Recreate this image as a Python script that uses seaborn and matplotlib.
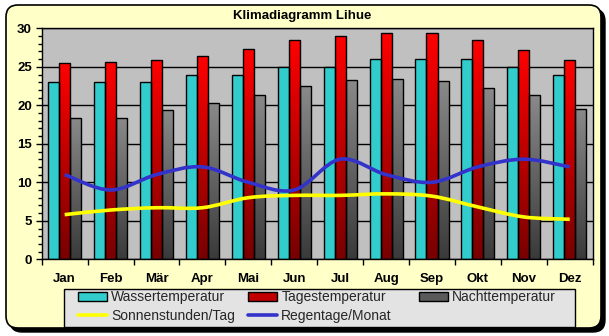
import numpy as np
import pandas as pd
import matplotlib
matplotlib.use("Agg")
import matplotlib.pyplot as plt
import seaborn as sns
from matplotlib.patches import FancyBboxPatch, Patch, PathPatch, Rectangle
from matplotlib.path import Path
from matplotlib.lines import Line2D
from matplotlib.colors import LinearSegmentedColormap
from matplotlib.ticker import MultipleLocator, FixedLocator
from matplotlib.transforms import IdentityTransform

# Monthly climate values for Lihue
months = ["Jan", "Feb", "Mär", "Apr", "Mai", "Jun", "Jul", "Aug", "Sep", "Okt", "Nov", "Dez"]
wassertemperatur = [23, 23, 23, 24, 24, 25, 25, 26, 26, 26, 25, 24]
tagestemperatur = [25.5, 25.6, 25.9, 26.4, 27.3, 28.5, 29.0, 29.4, 29.4, 28.5, 27.2, 25.9]
nachttemperatur = [18.4, 18.4, 19.4, 20.3, 21.3, 22.5, 23.3, 23.4, 23.2, 22.3, 21.3, 19.5]
sonnenstunden = [5.8, 6.4, 6.7, 6.7, 8.0, 8.3, 8.3, 8.5, 8.2, 6.8, 5.5, 5.2]
regentage = [11, 9, 11, 12, 10, 9, 13, 11, 10, 12, 13, 12]

bar_series = ["Wassertemperatur", "Tagestemperatur", "Nachttemperatur"]

df = pd.DataFrame({
    "Monat": months * 3,
    "Wert": wassertemperatur + tagestemperatur + nachttemperatur,
    "Reihe": [bar_series[0]] * 12 + [bar_series[1]] * 12 + [bar_series[2]] * 12,
})

FONT = "Liberation Sans"
W, H, DPI = 609, 336, 100

sns.set_theme(style="white")
plt.rcParams["font.family"] = [FONT, "DejaVu Sans"]

fig = plt.figure(figsize=(W / DPI, H / DPI), dpi=DPI, facecolor="white")

# Rounded chart frame with a drop shadow (pixel coordinates)
shadow = FancyBboxPatch((10, 4), 595, 323, boxstyle="round,pad=0,rounding_size=12",
                        transform=IdentityTransform(), facecolor="black",
                        edgecolor="black", lw=1, zorder=-3)
frame = FancyBboxPatch((6, 8), 595, 323, boxstyle="round,pad=0,rounding_size=12",
                       transform=IdentityTransform(), facecolor="#FFFFC8",
                       edgecolor="black", lw=1.2, zorder=-2)
fig.add_artist(shadow)
fig.add_artist(frame)

ax = fig.add_axes([41.7 / W, (H - 259.3) / H, (592.7 - 41.7) / W, (259.3 - 28.3) / H])
ax.set_facecolor("#C0C0C0")

sns.barplot(data=df, x="Monat", y="Wert", hue="Reihe", hue_order=bar_series,
            palette=["#33CCCC", "#FF0000", "#808080"], saturation=1,
            width=0.72, gap=0, edgecolor="black", linewidth=1,
            legend=False, ax=ax, zorder=2)

# Vertical gradients for day and night temperature bars
cmaps = {
    1: LinearSegmentedColormap.from_list("tag", ["#780000", "#FF0000"]),
    2: LinearSegmentedColormap.from_list("nacht", ["#3A3A3A", "#8A8A8A"]),
}
grad = np.linspace(1, 0, 256)[:, None]
for idx, cmap in cmaps.items():
    for bar in ax.containers[idx]:
        x0, w, h = bar.get_x(), bar.get_width(), bar.get_height()
        im = ax.imshow(grad, extent=[x0, x0 + w, 0, h], origin="upper",
                       aspect="auto", cmap=cmap, zorder=1.9, interpolation="bilinear")
        im.set_clip_path(bar)
        bar.set_facecolor("none")


def smooth_path(xs, ys):
    """Bezier path through the points, Catmull-Rom style control points."""
    pts = np.column_stack([xs, ys]).astype(float)
    n = len(pts)
    verts = [pts[0]]
    codes = [Path.MOVETO]
    for i in range(n - 1):
        p0 = pts[i - 1] if i > 0 else pts[i]
        p1 = pts[i]
        p2 = pts[i + 1]
        p3 = pts[i + 2] if i + 2 < n else pts[i + 1]
        c1 = p1 + (p2 - p0) / 6.0
        c2 = p2 - (p3 - p1) / 6.0
        verts += [c1, c2, p2]
        codes += [Path.CURVE4] * 3
    return Path(verts, codes)


xpos = np.arange(len(months))
ax.add_patch(PathPatch(smooth_path(xpos, sonnenstunden), fill=False,
                       edgecolor="#FFFF00", lw=2.6, zorder=5, capstyle="butt"))
ax.add_patch(PathPatch(smooth_path(xpos, regentage), fill=False,
                       edgecolor="#3333CC", lw=2.6, zorder=5, capstyle="butt"))

ax.set_xlim(-0.5, 11.5)
ax.set_ylim(0, 30)
ax.set_xlabel("")
ax.set_ylabel("")

# y axis: grid every 5, minor ticks every 1
ax.yaxis.set_major_locator(MultipleLocator(5))
ax.yaxis.set_minor_locator(MultipleLocator(1))
ax.set_axisbelow(True)
ax.grid(axis="y", which="major", color="black", lw=1, zorder=0)
ax.grid(axis="x", visible=False)

# x axis: labels at the month centres, tick marks at the group boundaries
ax.xaxis.set_minor_locator(FixedLocator(np.arange(-0.5, 12, 1)))
ax.tick_params(axis="x", which="major", length=0, pad=10)
ax.tick_params(axis="x", which="minor", length=4, width=1, direction="out", color="black", bottom=True)
ax.tick_params(axis="y", which="major", length=4, width=1, direction="out", color="black", left=True, pad=3)
ax.tick_params(axis="y", which="minor", length=3, width=1, direction="out", color="black", left=True)

for lab in ax.get_xticklabels() + ax.get_yticklabels():
    lab.set_fontfamily(FONT)
    lab.set_fontweight("bold")
    lab.set_fontsize(9.5)
    lab.set_color("black")

for sp in ax.spines.values():
    sp.set_color("black")
    sp.set_linewidth(1)

fig.text(302 / W, (H - 16) / H, "Klimadiagramm Lihue", ha="center", va="center",
         fontfamily=FONT, fontweight="bold", fontsize=9.5, color="black")

# Legend box with three equally wide columns
fig.add_artist(Rectangle((64.3, H - 326.5), 510.4, 37.2, transform=IdentityTransform(),
                         facecolor="#E3E3E3", edgecolor="black", lw=1, zorder=3))

legend_columns = [
    (78, [Patch(facecolor="#33CCCC", edgecolor="black", lw=1),
          Line2D([], [], color="#FFFF00", lw=2.6)],
     ["Wassertemperatur", "Sonnenstunden/Tag"]),
    (248, [Patch(facecolor="#C00000", edgecolor="black", lw=1),
           Line2D([], [], color="#3333CC", lw=2.6)],
     ["Tagestemperatur", "Regentage/Monat"]),
    (419, [Patch(facecolor="#5A5A5A", edgecolor="black", lw=1)],
     ["Nachttemperatur"]),
]
for xleft, hs, ls in legend_columns:
    leg = fig.legend(hs, ls, ncol=1, loc="upper left",
                     bbox_to_anchor=(xleft / W, (H - 290.5) / H),
                     borderaxespad=0, borderpad=0, frameon=False,
                     prop={"family": FONT, "size": 10}, handlelength=2.1,
                     handleheight=0.55, handletextpad=0.3, labelspacing=0.3)
    leg.set_zorder(4)

fig.savefig("out.png", dpi=DPI, facecolor="white")
